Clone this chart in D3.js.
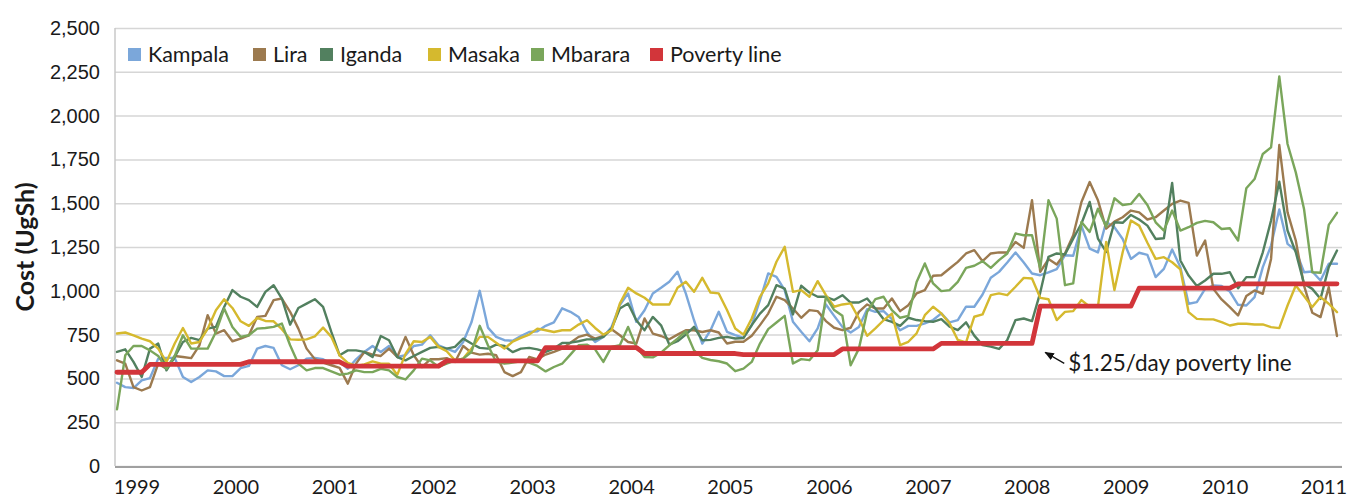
<!DOCTYPE html>
<html><head><meta charset="utf-8">
<script src="https://cdn.jsdelivr.net/npm/d3@7"></script>
<style>
body{margin:0;background:#fff;}
svg{display:block;font-family:Lato,"Open Sans",sans-serif;}
</style>
</head><body>
<svg id="chart" width="1348" height="498"></svg>
<script>
// ---------- DATA (monthly, Jan 1999 .. May 2011) ----------
const yearLabels = ["1999","2000","2001","2002","2003","2004","2005","2006","2007","2008","2009","2010","2011"];
const yTicks = [0,250,500,750,1000,1250,1500,1750,2000,2250,2500];
const seriesNames = ["Kampala","Lira","Iganda","Masaka","Mbarara","Poverty line"];
const seriesColors = ["#7ba7da","#9c7a4f","#52805f","#d5b92e","#7aa65b","#d2353a"];

const kampala = [475,450,445,489,502,613,617,617,508,479,508,546,540,513,513,559,571,670,685,674,575,552,575,613,617,
609,584,594,555,609,651,685,651,685,622,632,685,693,746,689,670,651,708,820,1000,790,737,718,
715,742,765,769,800,820,900,880,851,765,708,737,794,918,985,823,889,985,1017,1052,1109,985,832,699,
775,880,766,747,731,804,947,1099,1080,1004,823,766,712,785,922,857,794,762,794,895,880,884,838,775,800,
800,814,833,871,820,833,909,909,979,1074,1108,1162,1219,1162,1099,1089,1105,1124,1203,1200,1371,1241,1219,1393,
1363,1296,1182,1217,1205,1078,1125,1236,1135,926,935,1011,1030,1027,996,920,916,964,1135,1258,1464,1268,1230,1106,1110,1059,1154,1154];

const lira = [603,584,450,431,450,584,555,628,622,616,689,861,756,775,712,727,746,851,857,947,956,880,784,670,610,
590,575,560,470,584,651,636,628,670,622,737,632,565,609,609,616,594,685,647,636,641,632,536,
513,536,622,609,636,651,670,704,737,750,727,742,780,746,708,699,842,756,742,723,750,775,775,765,
775,762,699,709,709,743,804,870,966,947,899,846,890,884,827,789,775,789,880,922,899,899,956,884,918,
985,1004,1086,1089,1127,1165,1213,1232,1169,1213,1219,1219,1279,1245,1517,1108,1181,1150,1213,1317,1507,1621,1517,1355,
1395,1420,1458,1448,1407,1420,1458,1496,1515,1502,1201,1287,1011,951,907,859,970,1002,983,1182,1832,1448,1287,1030,875,850,1021,742];

const iganda = [651,666,594,508,670,699,546,622,708,731,718,784,794,908,1004,966,947,908,994,1032,956,807,902,927,952,
908,765,632,660,660,651,622,742,718,622,603,628,651,674,680,670,680,727,699,674,670,693,685,
650,670,674,666,651,670,702,704,712,723,723,737,784,899,927,832,775,851,803,693,712,750,794,718,
720,731,737,728,731,804,870,918,1032,1013,865,1029,990,966,966,947,975,933,933,956,899,838,823,800,846,
833,827,823,838,795,776,820,744,690,681,668,719,833,842,827,990,1194,1213,1207,1298,1384,1507,1298,1222,
1391,1388,1433,1407,1372,1296,1300,1616,1173,1087,1027,1059,1097,1097,1106,1015,1078,1078,1220,1401,1623,1344,1220,1040,1011,954,1135,1230];

const masaka = [756,762,746,727,712,670,594,699,788,699,708,784,889,952,902,826,800,845,828,826,781,723,721,723,740,
790,737,632,588,571,580,597,584,584,520,640,712,708,737,680,655,603,613,670,737,737,704,670,
710,731,750,784,775,765,775,775,807,832,788,750,775,927,1017,985,960,922,922,922,1017,1052,994,1074,
990,985,890,785,750,842,966,1042,1166,1251,994,1004,966,1055,975,909,922,928,842,743,785,832,870,690,709,
757,861,909,871,814,719,706,852,865,975,985,975,1023,1074,1070,960,952,833,880,884,947,909,909,1279,
1004,1220,1401,1372,1274,1182,1192,1163,1122,878,840,837,837,821,802,812,812,808,808,793,787,916,1030,970,907,964,926,878];

const mbarara = [323,632,685,685,660,628,555,628,746,670,670,670,765,899,794,737,746,784,788,794,813,689,584,546,559,
559,540,521,527,546,536,536,555,546,508,494,546,613,603,565,584,603,613,651,800,689,594,584,
590,597,590,571,540,565,584,636,689,693,666,594,680,689,794,680,622,620,647,689,727,769,660,617,
605,598,585,541,556,594,699,781,819,857,585,610,604,661,966,890,857,575,670,880,952,966,890,846,857,
1050,1156,1042,998,1004,1051,1131,1143,1169,1131,1175,1213,1327,1317,1317,1127,1517,1412,1032,1042,1393,1336,1469,1365,
1528,1490,1496,1553,1490,1391,1344,1458,1344,1363,1388,1399,1391,1353,1357,1287,1585,1638,1781,1819,2224,1838,1676,1467,1106,1103,1376,1445];

const poverty = [535,535,535,535,
580,580,580,580,580,580,580,580,580,580,580,580,
595,595,595,595,595,595,595,595,595,595,595,595,
570,570,570,570,570,570,570,570,570,570,570,570,
600,600,600,600,600,600,600,600,600,600,600,600,
676,676,676,676,676,676,676,676,676,676,676,676,
642,642,642,642,642,642,642,642,642,642,642,642,
636,636,636,636,636,636,636,636,636,636,636,636,
668,668,668,668,668,668,668,668,668,668,668,668,
700,700,700,700,700,700,700,700,700,700,700,700,
912,912,912,912,912,912,912,912,912,912,912,912,
1015,1015,1015,1015,1015,1015,1015,1015,1015,1015,1015,1015,
1040,1040,1040,1040,1040,1040,1040,1040,1040,1040,1040,1040,1040];

const annotationText = "$1.25/day poverty line";

// ---------- CHART ----------
const svg = d3.select("#chart");
const plotLeft = 115, plotRight = 1342, plotTop = 28, plotBottom = 466;

const x = d3.scaleLinear().domain([0, kampala.length - 1]).range([117, 1337]);
const y = d3.scaleLinear().domain([0, 2500]).range([plotBottom, plotTop]);

// gridlines + y labels
const yAxis = svg.append("g")
  .attr("transform", `translate(${plotLeft},0)`)
  .call(d3.axisLeft(y).tickValues(yTicks).tickSize(-(plotRight - plotLeft)).tickPadding(15).tickFormat(d3.format(",")));
yAxis.select(".domain").remove();
yAxis.selectAll(".tick line").attr("stroke", "#d6d6d6").attr("stroke-width", 1.5);
yAxis.selectAll(".tick text").attr("fill", "#1a1a1a").style("font-size", "20px");

// left axis line
svg.append("line").attr("x1", plotLeft).attr("x2", plotLeft).attr("y1", plotTop).attr("y2", plotBottom)
  .attr("stroke", "#c8c8c8").attr("stroke-width", 1.5);
// bottom axis line
svg.append("line").attr("x1", plotLeft).attr("x2", plotRight).attr("y1", plotBottom + 1).attr("y2", plotBottom + 1)
  .attr("stroke", "#a0a0a0").attr("stroke-width", 2);

// x labels (one per January)
svg.append("g").selectAll("text").data(yearLabels).join("text")
  .attr("x", (d, i) => x(i * 12) + 20)
  .attr("y", 494)
  .attr("text-anchor", "middle")
  .attr("fill", "#1a1a1a")
  .style("font-size", "20px")
  .text(d => d);

// y title
svg.append("text")
  .attr("transform", `translate(34,${(plotTop + plotBottom) / 2}) rotate(-90)`)
  .attr("text-anchor", "middle")
  .attr("fill", "#1a1a1a")
  .style("font-size", "25px").style("font-weight", "bold")
  .text("Cost (UgSh)");

// lines
const allSeries = [kampala, lira, iganda, masaka, mbarara, poverty];
const line = d3.line().x((d, i) => x(i)).y(d => y(d));
allSeries.forEach((s, k) => {
  svg.append("path")
    .datum(s)
    .attr("fill", "none")
    .attr("stroke", seriesColors[k])
    .attr("stroke-width", k === 5 ? 4.8 : 2.4)
    .attr("stroke-linejoin", "round")
    .attr("stroke-linecap", "round")
    .attr("d", line);
});

// legend
const legendX = [128, 253, 320, 428, 531, 650];
const lg = svg.append("g");
seriesNames.forEach((n, k) => {
  lg.append("rect").attr("x", legendX[k]).attr("y", 48).attr("width", 13).attr("height", 13).attr("fill", seriesColors[k]);
  lg.append("text").attr("x", legendX[k] + 20).attr("y", 62).attr("fill", "#1a1a1a").style("font-size", "21.5px").text(n);
});

// annotation
svg.append("defs").append("marker")
  .attr("id", "arr").attr("viewBox", "0 0 10 10").attr("refX", 9).attr("refY", 5)
  .attr("markerWidth", 8).attr("markerHeight", 8).attr("orient", "auto")
  .append("path").attr("d", "M0,1 L10,5 L0,9 z").attr("fill", "#111");
const stepIdx = poverty.findIndex(v => v >= 900);
const tipX = x(stepIdx) + 5, tipY = y(poverty[stepIdx - 1]) + 9;
svg.append("line").attr("x1", tipX + 19).attr("y1", tipY + 11).attr("x2", tipX).attr("y2", tipY)
  .attr("stroke", "#111").attr("stroke-width", 1.2).attr("marker-end", "url(#arr)");
svg.append("text").attr("x", tipX + 23).attr("y", tipY + 19)
  .attr("fill", "#1a1a1a").style("font-size", "22.5px").text(annotationText);
</script>
</body></html>
